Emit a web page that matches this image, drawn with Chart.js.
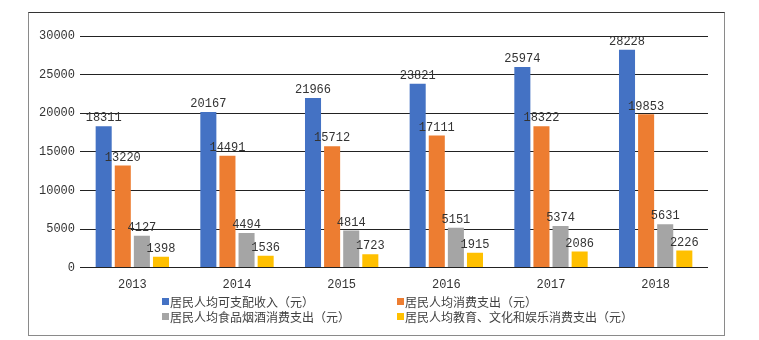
<!DOCTYPE html>
<html>
<head>
<meta charset="utf-8">
<script src="https://cdn.jsdelivr.net/npm/chart.js@4/dist/chart.umd.min.js"></script>
<style>
  body { margin: 0; background: #fff; }
  #box {
    position: absolute; left: 28px; top: 12px;
    width: 695px; height: 322px;
    border: 1px solid #8a8a8a;
    border-top-color: #333;
  }
</style>
</head>
<body>
<div id="box"><canvas id="my-bar-Chart" width="695" height="322"></canvas></div>
<script>
const years = ["2013", "2014", "2015", "2016", "2017", "2018"];
const income = [18311, 20167, 21966, 23821, 25974, 28228];
const spending = [13220, 14491, 15712, 17111, 18322, 19853];
const foodSpending = [4127, 4494, 4814, 5151, 5374, 5631];
const eduSpending = [1398, 1536, 1723, 1915, 2086, 2226];
const seriesNames = [
  "居民人均可支配收入（元）",
  "居民人均消费支出（元）",
  "居民人均食品烟酒消费支出（元）",
  "居民人均教育、文化和娱乐消费支出（元）",
];
const colors = ["#4472C4", "#ED7D31", "#A5A5A5", "#FFC000"];

const numFont = "'Liberation Mono', monospace";
const cjkFont = "'Noto Sans CJK SC', sans-serif";

// value above every bar
const barLabels = {
  id: "barLabels",
  afterDatasetsDraw(chart) {
    const ctx = chart.ctx;
    ctx.save();
    ctx.font = "12px " + numFont;
    ctx.fillStyle = "#333";
    ctx.textAlign = "center";
    ctx.textBaseline = "bottom";
    chart.data.datasets.forEach((ds, i) => {
      chart.getDatasetMeta(i).data.forEach((bar, j) => {
        ctx.fillText(ds.data[j], bar.x, bar.y - 2);
      });
    });
    ctx.restore();
  },
};

// two-column legend under the axis
const gridLegend = {
  id: "gridLegend",
  afterDraw(chart) {
    const ctx = chart.ctx;
    const colX = [133, 368];
    const rowY = [289, 304];
    ctx.save();
    ctx.font = "12px " + cjkFont;
    ctx.textBaseline = "middle";
    chart.data.datasets.forEach((ds, i) => {
      const x = colX[i % 2];
      const y = rowY[Math.floor(i / 2)];
      ctx.fillStyle = ds.backgroundColor;
      ctx.fillRect(x, y - 4, 7, 7);
      ctx.fillStyle = "#404040";
      ctx.fillText(ds.label, x + 8, y);
    });
    ctx.restore();
  },
};

const makeSet = (label, data, color) => ({
  label: label,
  data: data,
  backgroundColor: color,
  categoryPercentage: 0.73,
  barPercentage: 0.84,
});

let ctx = document.querySelector("#my-bar-Chart");

let myBarChart = new Chart(ctx, {
  type: "bar",
  data: {
    labels: years,
    datasets: [
      makeSet(seriesNames[0], income, colors[0]),
      makeSet(seriesNames[1], spending, colors[1]),
      makeSet(seriesNames[2], foodSpending, colors[2]),
      makeSet(seriesNames[3], eduSpending, colors[3]),
    ],
  },
  options: {
    responsive: false,
    animation: false,
    layout: { padding: { top: 23, right: 16, bottom: 41, left: 0 } },
    plugins: {
      legend: { display: false },
      tooltip: { enabled: false },
    },
    scales: {
      x: {
        grid: { display: false },
        border: { display: false },
        ticks: { color: "#333", font: { family: numFont, size: 12 }, padding: 2 },
      },
      y: {
        min: 0,
        max: 30000,
        afterFit: (scale) => { scale.width = 51; },
        grid: { color: "#222", drawTicks: false },
        border: { display: false },
        ticks: {
          stepSize: 5000,
          color: "#333",
          padding: 5,
          font: { family: numFont, size: 12 },
          callback: (v) => String(v),
        },
      },
    },
  },
  plugins: [barLabels, gridLegend],
});
</script>
</body>
</html>
